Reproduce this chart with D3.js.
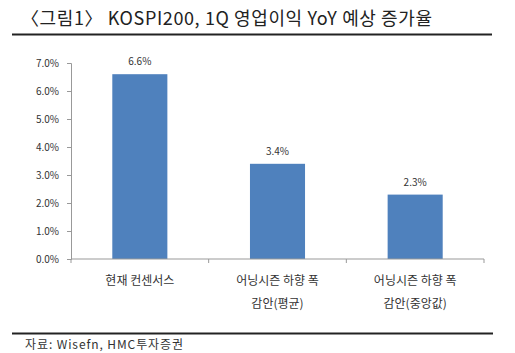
<!DOCTYPE html>
<html>
<head>
<meta charset="utf-8">
<script src="https://cdn.jsdelivr.net/npm/d3@7"></script>
<style>
  body { margin: 0; background: #fff; }
  text { font-family: "Noto Sans CJK KR", "Noto Sans", sans-serif; }
</style>
</head>
<body>
<div id="chart"></div>
<script>
const categories = [['현재 컨센서스'], ['어닝시즌 하향 폭', '감안(평균)'], ['어닝시즌 하향 폭', '감안(중앙값)']];
const values = [6.6, 3.4, 2.3];
const yTicks = [0, 1, 2, 3, 4, 5, 6, 7];

const width = 515;
const height = 353;
const margin = { top: 63, bottom: 94, left: 71, right: 31 };

const svg = d3.select('#chart')
  .append('svg')
  .attr('width', width)
  .attr('height', height);

// title + rules
svg.append('text')
  .attr('x', 21).attr('y', 25)
  .attr('font-size', 18)
  .attr('fill', '#222')
  .attr('font-family', '"Noto Sans", "Noto Sans CJK KR", sans-serif')
  .attr('textLength', 411)
  .attr('lengthAdjust', 'spacing')
  .text('〈그림1〉 KOSPI200, 1Q 영업이익 YoY 예상 증가율');

svg.append('line')
  .attr('x1', 12).attr('x2', 492).attr('y1', 34.5).attr('y2', 34.5)
  .attr('stroke', '#222').attr('stroke-width', 2);

svg.append('line')
  .attr('x1', 12).attr('x2', 493).attr('y1', 333.5).attr('y2', 333.5)
  .attr('stroke', '#222').attr('stroke-width', 2);

svg.append('text')
  .attr('x', 25).attr('y', 349)
  .attr('font-size', 12)
  .attr('fill', '#333')
  .attr('textLength', 158)
  .attr('lengthAdjust', 'spacing')
  .text('자료: Wisefn, HMC투자증권');

const x = d3.scaleBand()
  .domain(d3.range(values.length))
  .range([margin.left, width - margin.right])
  .paddingInner(0.6)
  .paddingOuter(0.3);

const y = d3.scaleLinear()
  .domain([0, 7])
  .range([height - margin.bottom, margin.top]);

svg.append('g')
  .attr('fill', '#4F81BD')
  .selectAll('rect')
  .data(values)
  .join('rect')
    .attr('x', (d, i) => x(i))
    .attr('y', d => y(d))
    .attr('width', x.bandwidth())
    .attr('height', d => y(0) - y(d));

svg.append('g')
  .selectAll('text')
  .data(values)
  .join('text')
    .attr('x', (d, i) => x(i) + x.bandwidth() / 2)
    .attr('y', d => y(d) - 9)
    .attr('text-anchor', 'middle')
    .attr('font-size', 10)
    .attr('fill', '#333')
    .text(d => d.toFixed(1) + '%');

// y axis
const yAxis = svg.append('g')
  .attr('transform', `translate(${margin.left},0)`)
  .call(d3.axisLeft(y).tickValues(yTicks).tickSize(4).tickPadding(8).tickFormat(d => d.toFixed(1) + '%'));
yAxis.select('.domain').attr('stroke', '#999');
yAxis.selectAll('.tick line').attr('stroke', '#999');
yAxis.selectAll('.tick text').attr('font-size', 10).attr('fill', '#333')
  .attr('font-family', '"Noto Sans CJK KR", sans-serif');

// x axis
const xAxis = svg.append('g')
  .attr('transform', `translate(0,${y(0)})`);
xAxis.append('line')
  .attr('x1', margin.left).attr('x2', width - margin.right)
  .attr('stroke', '#999');
const step = x.step();
xAxis.selectAll('.xt')
  .data(d3.range(values.length + 1))
  .join('line')
    .attr('class', 'xt')
    .attr('x1', i => margin.left + i * step)
    .attr('x2', i => margin.left + i * step)
    .attr('y1', 0).attr('y2', 4)
    .attr('stroke', '#999');

xAxis.selectAll('.xl')
  .data(categories)
  .join('text')
    .attr('class', 'xl')
    .attr('text-anchor', 'middle')
    .attr('font-size', 12)
    .attr('fill', '#333')
    .attr('transform', (d, i) => `translate(${x(i) + x.bandwidth() / 2},0)`)
    .selectAll('tspan')
    .data(d => d)
    .join('tspan')
      .attr('x', 0)
      .attr('y', (d, j) => 26 + j * 23)
      .text(d => d);
</script>
</body>
</html>
